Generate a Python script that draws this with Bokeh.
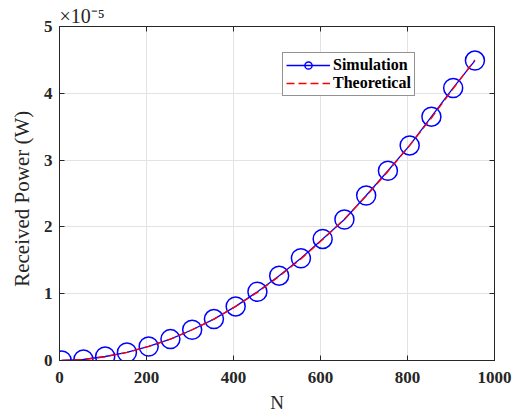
from bokeh.plotting import figure
from bokeh.models import LinearAxis, FixedTicker, Legend, LegendItem, Title
from bokeh.embed import file_html
from bokeh.resources import INLINE

# Data (received power in units of 1e-5 W)
N = [5, 55, 105, 155, 205, 255, 305, 355, 405, 455,
     505, 555, 605, 655, 705, 755, 805, 855, 905, 955]
simulation = [0.0, 0.015, 0.06, 0.12, 0.21, 0.32, 0.46, 0.62, 0.81, 1.03,
              1.27, 1.53, 1.82, 2.11, 2.47, 2.84, 3.22, 3.65, 4.08, 4.49]
theoretical = [0.0, 0.015, 0.055, 0.12, 0.21, 0.32, 0.46, 0.62, 0.81, 1.02,
               1.26, 1.52, 1.81, 2.12, 2.46, 2.83, 3.22, 3.63, 4.07, 4.50]
x_ticks = [0, 200, 400, 600, 800, 1000]
y_ticks = [0, 1, 2, 3, 4, 5]
exponent_text = "×10⁻⁵"

FONT = "Liberation Serif"
AX = "#262626"

p = figure(frame_width=435, frame_height=334,
           min_border_left=59, min_border_right=23, min_border_top=26, min_border_bottom=50,
           x_range=(0, 1000), y_range=(0, 5),
           output_backend="svg", toolbar_location=None,
           x_axis_label="N", y_axis_label="Received  Power  (W)")
p.background_fill_color = "white"
p.border_fill_color = "white"
p.outline_line_color = AX
p.outline_line_width = 1

for ax in (p.xaxis[0], p.yaxis[0]):
    ax.axis_line_color = AX
    ax.major_tick_line_color = AX
    ax.major_tick_in = 5
    ax.major_tick_out = 0
    ax.minor_tick_line_color = None
    ax.major_label_text_font = FONT
    ax.major_label_text_font_style = "bold"
    ax.major_label_text_font_size = "17px"
    ax.major_label_text_color = AX
    ax.axis_label_text_font = FONT
    ax.axis_label_text_font_style = "normal"
    ax.axis_label_text_color = AX

p.xaxis.axis_label_text_font_size = "19px"
p.yaxis.axis_label_text_font_size = "21px"
p.xaxis.ticker = FixedTicker(ticks=x_ticks)
p.yaxis.ticker = FixedTicker(ticks=y_ticks)
p.xaxis.major_label_standoff = 11
p.yaxis.major_label_standoff = 7
p.xaxis.axis_label_standoff = 6
p.yaxis.axis_label_standoff = 7

for loc in ("right", "above"):
    t = x_ticks if loc == "above" else y_ticks
    a = LinearAxis(ticker=FixedTicker(ticks=t))
    a.axis_line_color = AX
    a.major_tick_line_color = AX
    a.major_tick_in = 5
    a.major_tick_out = 0
    a.minor_tick_line_color = None
    a.major_label_overrides = {v: "" for v in t}
    a.major_label_standoff = 0
    p.add_layout(a, loc)

p.add_layout(Title(text=exponent_text, align="left", offset=0, standoff=0,
                   text_font=FONT, text_font_size="20px", text_font_style="normal",
                   text_color=AX), "above")

p.xgrid.ticker = FixedTicker(ticks=x_ticks)
p.ygrid.ticker = FixedTicker(ticks=y_ticks)
p.grid.grid_line_color = "#e3e3e3"
p.grid.grid_line_width = 1

sim_line = p.line(N, simulation, line_color="#0000ff", line_width=1.3)
sim_pts = p.scatter(N, simulation, marker="circle", size=19, fill_color=None,
                    line_color="#0000ff", line_width=1.5)
theo_line = p.line(N, theoretical, line_color="#ff0000", line_width=1.3, line_dash="8 4")

legend = Legend(items=[LegendItem(label="Simulation", renderers=[sim_line, sim_pts]),
                       LegendItem(label="Theoretical", renderers=[theo_line])],
                location=(223, 264))
legend.label_text_font = FONT
legend.label_text_font_style = "bold"
legend.label_text_font_size = "16px"
legend.label_text_color = "black"
legend.border_line_color = AX
legend.border_line_width = 1
legend.glyph_width = 44
legend.glyph_height = 18
legend.label_standoff = 3
legend.padding = 3
legend.spacing = 0
legend.margin = 0
legend.label_height = 18
p.add_layout(legend, "center")

open("out.html", "w").write(file_html(p, INLINE))
